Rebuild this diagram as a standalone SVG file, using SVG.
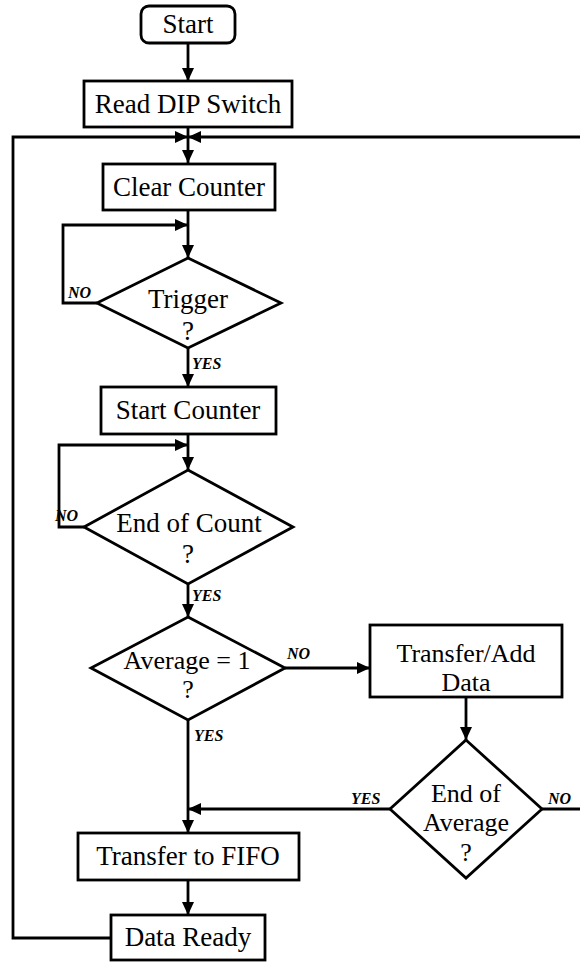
<svg xmlns="http://www.w3.org/2000/svg" width="580" height="964" viewBox="0 0 580 964">
<style>
.box{fill:#fff;stroke:#000;stroke-width:2.8}
.ln{fill:none;stroke:#000;stroke-width:2.8}
.t{font-family:"Liberation Serif","Times New Roman",serif;font-size:27px;fill:#000;text-anchor:middle}
.s{font-size:26px}
.lb{font-family:"Liberation Serif","Times New Roman",serif;font-size:16px;font-weight:bold;font-style:italic;fill:#000}
</style>
<defs>
<marker id="ah" markerUnits="userSpaceOnUse" markerWidth="14" markerHeight="12" refX="13" refY="6" orient="auto">
<path d="M0,0 L13,6 L0,12 Z" fill="#000"/>
</marker>
</defs>
<rect width="580" height="964" fill="#fff"/>
<g id="connectors">
<line class="ln" x1="188" y1="43" x2="188" y2="81" marker-end="url(#ah)"/>
<line class="ln" x1="188" y1="127" x2="188" y2="163" marker-end="url(#ah)"/>
<polyline class="ln" points="111,938 13,938 13,137 188,137" marker-end="url(#ah)"/>
<polyline class="ln" points="580,137 188,137" marker-end="url(#ah)"/>
<line class="ln" x1="188" y1="210" x2="188" y2="258" marker-end="url(#ah)"/>
<polyline class="ln" points="97,303 63,303 63,225 188,225" marker-end="url(#ah)"/>
<line class="ln" x1="188" y1="348" x2="188" y2="387" marker-end="url(#ah)"/>
<line class="ln" x1="188" y1="434" x2="188" y2="470" marker-end="url(#ah)"/>
<polyline class="ln" points="84,527 59,527 59,445 188,445" marker-end="url(#ah)"/>
<line class="ln" x1="188" y1="584" x2="188" y2="617" marker-end="url(#ah)"/>
<line class="ln" x1="285" y1="668" x2="370" y2="668" marker-end="url(#ah)"/>
<line class="ln" x1="466" y1="697" x2="466" y2="740" marker-end="url(#ah)"/>
<line class="ln" x1="188" y1="720" x2="188" y2="833" marker-end="url(#ah)"/>
<line class="ln" x1="390" y1="809" x2="188" y2="809" marker-end="url(#ah)"/>
<line class="ln" x1="542" y1="809" x2="580" y2="809"/>
<line class="ln" x1="188" y1="880" x2="188" y2="915" marker-end="url(#ah)"/>
<text class="lb" x="68" y="298">NO</text>
<text class="lb" x="192" y="369">YES</text>
<text class="lb" x="55" y="521">NO</text>
<text class="lb" x="192" y="601">YES</text>
<text class="lb" x="287" y="659">NO</text>
<text class="lb" x="194" y="741">YES</text>
<text class="lb" x="351" y="804">YES</text>
<text class="lb" x="548" y="804">NO</text>
</g>
<g id="start">
<rect class="box" x="141" y="6" width="94" height="37" rx="8"/>
<text class="t" x="188" y="33">Start</text>
</g>
<g id="read-dip">
<rect class="box" x="84" y="81" width="208" height="46"/>
<text class="t" x="188" y="113">Read DIP Switch</text>
</g>
<g id="clear-counter">
<rect class="box" x="103" y="164" width="172" height="46"/>
<text class="t" x="189" y="196">Clear Counter</text>
</g>
<g id="trigger">
<polygon class="box" points="188,258 281,303 188,348 97,303"/>
<text class="t" x="188" y="308">Trigger</text>
<text class="t" x="188" y="340">?</text>
</g>
<g id="start-counter">
<rect class="box" x="101" y="387" width="175" height="47"/>
<text class="t" x="188" y="419">Start Counter</text>
</g>
<g id="end-of-count">
<polygon class="box" points="188,470 293,527 188,584 84,527"/>
<text class="t" x="189" y="532">End of Count</text>
<text class="t" x="188" y="563">?</text>
</g>
<g id="average">
<polygon class="box" points="188,617 285,668 188,720 91,668"/>
<text class="t s" x="187" y="669">Average = 1</text>
<text class="t s" x="188" y="698">?</text>
</g>
<g id="transfer-add">
<rect class="box" x="370" y="625" width="192" height="72"/>
<text class="t s" x="466" y="662">Transfer/Add</text>
<text class="t s" x="466" y="691">Data</text>
</g>
<g id="end-of-average">
<polygon class="box" points="466,740 542,809 466,878 390,809"/>
<text class="t s" x="466" y="802">End of</text>
<text class="t s" x="466" y="831">Average</text>
<text class="t s" x="466" y="861">?</text>
</g>
<g id="transfer-fifo">
<rect class="box" x="78" y="833" width="221" height="47"/>
<text class="t" x="188" y="865">Transfer to FIFO</text>
</g>
<g id="data-ready">
<rect class="box" x="111" y="915" width="154" height="45"/>
<text class="t" x="188" y="946">Data Ready</text>
</g>
</svg>
